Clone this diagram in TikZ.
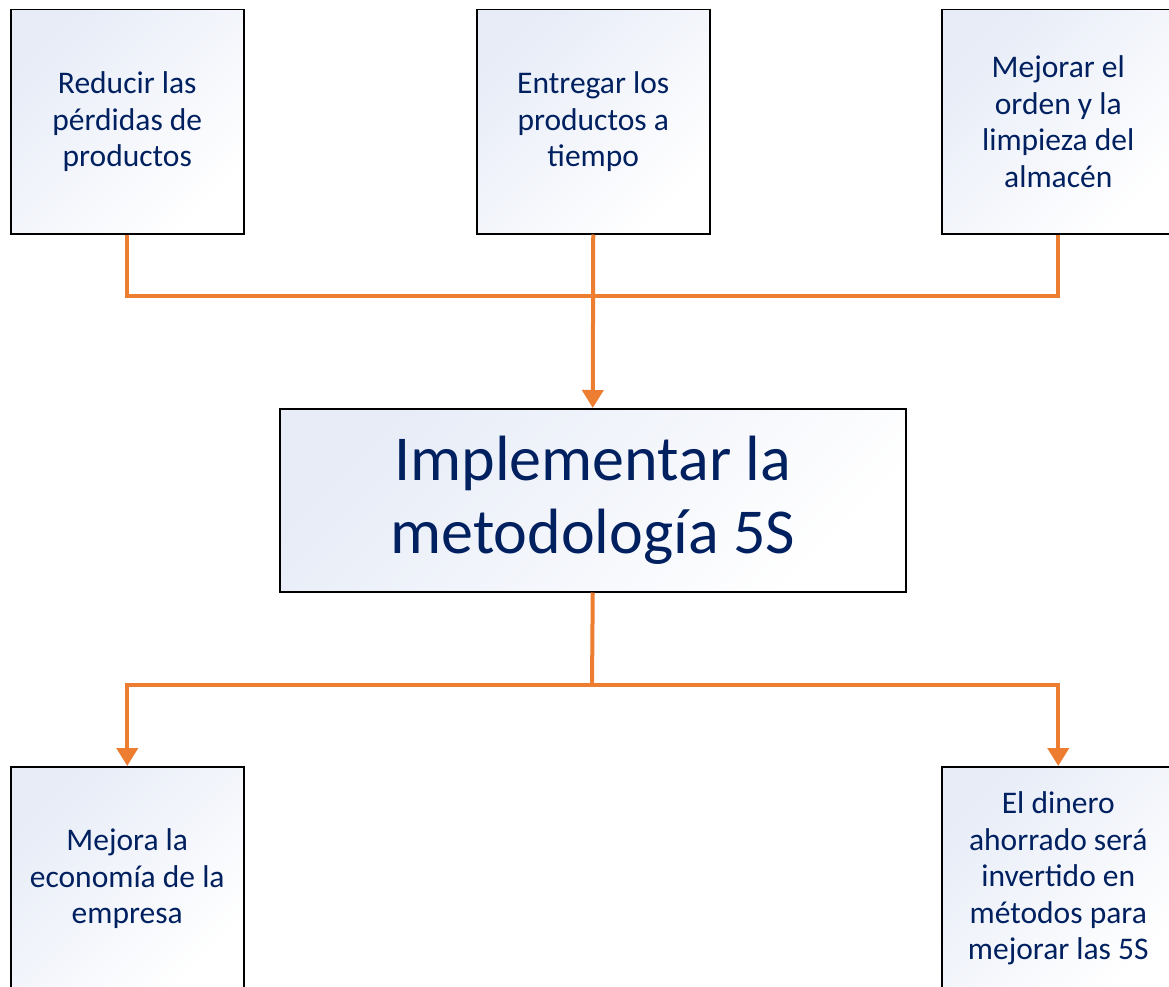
\documentclass[tikz,border=0pt]{standalone}
\usepackage{fontspec}
\setmainfont{Carlito}
\usetikzlibrary{arrows.meta}
\definecolor{txt}{RGB}{0,32,96}
\definecolor{boxtop}{RGB}{231,236,247}
\definecolor{conn}{RGB}{237,125,49}
\tikzset{
  box/.style={draw=black, line width=1.5pt, top color=boxtop, bottom color=white, shading angle=45,
    minimum width=233pt, minimum height=224pt, anchor=north west, align=center, text=txt,
    font=\fontsize{31.5}{36.5}\selectfont, inner sep=0pt},
  bigbox/.style={box, minimum width=626pt, minimum height=183pt, font=\fontsize{64}{73}\selectfont},
  link/.style={draw=conn, line width=4pt},
  arr/.style={link, -{Triangle[width=21pt,length=18pt]}}
}
\begin{document}
\begin{tikzpicture}[x=1pt,y=-1pt]
\useasboundingbox (0,0) rectangle (1169,987);
\node[box] (a) at (10,9) {Reducir las\\pérdidas de\\productos};
\node[box] (b) at (476,9) {Entregar los\\productos a\\tiempo};
\node[box] (c) at (941,9) {Mejorar el\\orden y la\\limpieza del\\almacén};
\node[bigbox] (m) at (279,408) {Implementar la\\metodología 5S};
\node[box] (d) at (10,766) {Mejora la\\economía de la\\empresa};
\node[box] (e) at (941,766) {El dinero\\ahorrado será\\invertido en\\métodos para\\mejorar las 5S};
\coordinate (j1) at (592,296);
\coordinate (j2) at (592,685);
\draw[link] (a.south) -- (a.south |- j1) -- (c.south |- j1) -- (c.south);
\draw[arr] (b.south) -- (m.north);
\draw[link] (m.south) -- (j2);
\draw[arr] (j2) -| (d.north);
\draw[arr] (j2) -| (e.north);
\end{tikzpicture}
\end{document}
